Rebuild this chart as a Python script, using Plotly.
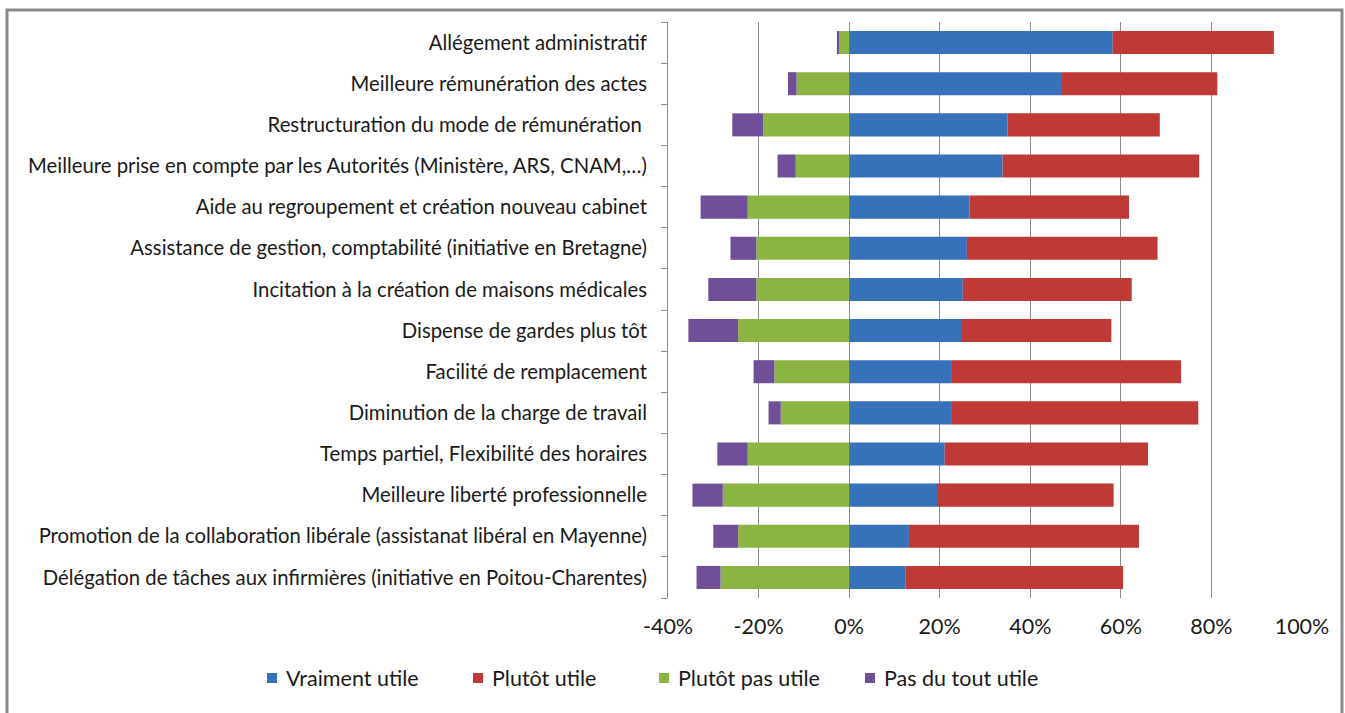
import plotly.graph_objects as go

# Survey: perceived usefulness of measures (share of respondents, %)
categories = [
    "Allégement administratif",
    "Meilleure rémunération des actes",
    "Restructuration du mode de rémunération ",
    "Meilleure prise en compte par les Autorités (Ministère, ARS, CNAM,…)",
    "Aide au regroupement et création nouveau cabinet",
    "Assistance de gestion, comptabilité (initiative en Bretagne)",
    "Incitation à la création de maisons médicales",
    "Dispense de gardes plus tôt",
    "Facilité de remplacement",
    "Diminution de la charge de travail",
    "Temps partiel, Flexibilité des horaires",
    "Meilleure liberté professionnelle",
    "Promotion de la collaboration libérale (assistanat libéral en Mayenne)",
    "Délégation de tâches aux infirmières (initiative en Poitou-Charentes)",
]
vraiment_utile = [58.2, 47.0, 35.0, 33.9, 26.6, 26.0, 25.1, 24.7, 22.7, 22.7, 21.1, 19.4, 13.2, 12.5]
plutot_utile = [35.6, 34.3, 33.6, 43.4, 35.2, 42.1, 37.3, 33.2, 50.6, 54.4, 44.9, 39.0, 50.8, 48.0]
plutot_pas_utile = [2.4, 11.6, 19.0, 11.8, 22.4, 20.5, 20.5, 24.5, 16.5, 15.1, 22.4, 27.9, 24.5, 28.4]
pas_du_tout_utile = [0.3, 1.9, 6.8, 4.0, 10.4, 5.7, 10.6, 11.0, 4.6, 2.7, 6.7, 6.7, 5.5, 5.3]

series_names = ["Vraiment utile", "Plutôt utile", "Plutôt pas utile", "Pas du tout utile"]
colors = ["#3671BA", "#BF3937", "#8CB443", "#6F4F98"]
x_ticks = [-40, -20, 0, 20, 40, 60, 80, 100]
x_tick_labels = [f"{v}%" for v in x_ticks]

FONT = "Lato"
fig = go.Figure()

# Positive answers stack to the right of 0, negative answers to the left
values = [
    vraiment_utile,
    plutot_utile,
    [-v for v in plutot_pas_utile],
    [-v for v in pas_du_tout_utile],
]
for name, vals, col in zip(series_names, values, colors):
    fig.add_trace(go.Bar(
        y=categories, x=vals, name=name, orientation="h",
        marker=dict(color=col, line=dict(width=0)),
        width=0.56, showlegend=False,
        hovertemplate="%{y}<br>" + name + ": %{x:.1f}%<extra></extra>",
    ))

W, H = 1345, 713
ml, mr, mt, mb = 668, 43, 22, 115
pw = W - ml - mr
ph = H - mt - mb


def px_x(px):
    """Pixel column -> paper x."""
    return (px - ml) / pw


def px_y(py):
    """Pixel row (from top) -> paper y."""
    return (H - mb - py) / ph


fig.update_layout(
    width=W, height=H,
    barmode="relative",
    paper_bgcolor="white", plot_bgcolor="white",
    margin=dict(l=ml, r=mr, t=mt, b=mb, pad=0),
    font=dict(family=FONT, color="#1a1a1a"),
)
fig.update_xaxes(
    range=[-40, 100], tickvals=x_ticks, ticktext=x_tick_labels,
    showgrid=True, gridcolor="#8c8c8c", gridwidth=1,
    zeroline=False, showline=False, ticks="",
    tickfont=dict(size=21.5, family=FONT, color="#1a1a1a"),
    ticklabelstandoff=13,
)
fig.update_yaxes(
    categoryorder="array", categoryarray=categories[::-1],
    autorange=False, range=[-0.5, len(categories) - 0.5],
    showline=True, linecolor="#8c8c8c", linewidth=1,
    ticks="outside", ticklen=6, tickcolor="#8c8c8c", tickson="boundaries",
    showgrid=False,
    tickfont=dict(size=20.3, family=FONT, color="#1a1a1a"),
    ticklabelstandoff=16,
)

# Outer frame around the chart (bottom edge runs below the page)
fig.add_shape(type="rect", xref="paper", yref="paper",
              x0=px_x(7), x1=px_x(1342), y0=px_y(730), y1=px_y(10),
              line=dict(color="#8a8a8a", width=3),
              fillcolor="rgba(0,0,0,0)", layer="below")

# Legend row below the axis
legend_y_px = 678
legend_x_px = [272, 478, 664, 870]
for name, col, xp in zip(series_names, colors, legend_x_px):
    yc = px_y(legend_y_px)
    fig.add_shape(type="rect", xref="paper", yref="paper",
                  x0=px_x(xp - 5), x1=px_x(xp + 5),
                  y0=yc - 5 / ph, y1=yc + 5 / ph,
                  fillcolor=col, line=dict(width=0))
    fig.add_annotation(xref="paper", yref="paper", x=px_x(xp + 12), y=yc,
                       xanchor="left", yanchor="middle", showarrow=False,
                       text=name, font=dict(size=21.5, family=FONT, color="#1a1a1a"))

fig.write_html("out.html")
